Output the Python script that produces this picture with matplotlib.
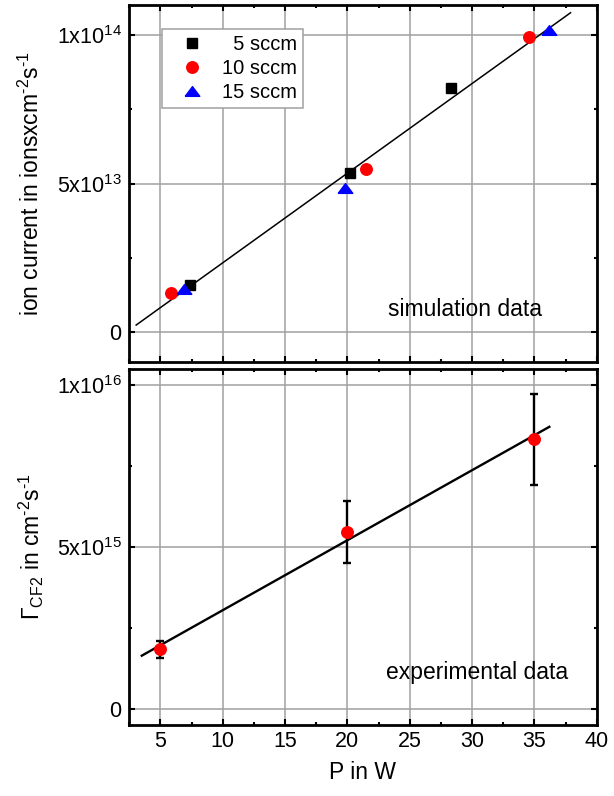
import numpy as np
import matplotlib
matplotlib.use("Agg")
import matplotlib.pyplot as plt
from matplotlib.ticker import MultipleLocator, FixedLocator

plt.rcParams['font.family'] = ['Liberation Sans', 'DejaVu Sans']
plt.rcParams['mathtext.fontset'] = 'custom'
plt.rcParams['mathtext.rm'] = 'Liberation Sans'
plt.rcParams['mathtext.it'] = 'Liberation Sans:italic'
plt.rcParams['mathtext.bf'] = 'Liberation Sans:bold'

# Simulated ion current vs. power for three gas flows
p_5sccm = [7.36, 20.18, 28.34]
ion_5sccm = [0.160e14, 0.534e14, 0.821e14]
p_10sccm = [5.88, 21.5, 34.56]
ion_10sccm = [0.132e14, 0.549e14, 0.992e14]
p_15sccm = [6.89, 19.77, 36.14]
ion_15sccm = [0.145e14, 0.486e14, 1.015e14]

# Measured CF2 flux vs. power
p_exp = [5, 20, 35]
flux_cf2 = [0.185e16, 0.546e16, 0.832e16]
flux_err = [0.026e16, 0.096e16, 0.140e16]

x_ticks = [5, 10, 15, 20, 25, 30, 35, 40]
top_yticks = [0, 5e13, 1e14]
top_ylabels = ['0', '5x10$^{13}$', '1x10$^{14}$']
bot_yticks = [0, 5e15, 1e16]
bot_ylabels = ['0', '5x10$^{15}$', '1x10$^{16}$']

HY = '\u2010'  # short hyphen for exponents in unit labels

fig = plt.figure(figsize=(6.14, 7.96), dpi=100)
ax1 = fig.add_axes([0.2106, 0.5449, 0.7612, 0.4489])
ax2 = fig.add_axes([0.2106, 0.0892, 0.7612, 0.4472])

fs_tick = 15.5
fs_lab = 16.5
fs_txt = 16.5
grid_c = '#a0a0a0'

# wide, flat triangle used for the 15 sccm series
tri = [(-1.5, -1.0), (1.5, -1.0), (0.0, 1.0), (-1.5, -1.0)]

for ax in (ax1, ax2):
    ax.set_xlim(2.5, 40)
    ax.xaxis.set_major_locator(FixedLocator(x_ticks))
    ax.xaxis.set_minor_locator(MultipleLocator(2.5))
    ax.grid(True, which='major', color=grid_c, lw=1.1, zorder=0)
    ax.set_axisbelow(True)
    ax.tick_params(which='both', direction='in', top=True, right=True,
                   labelsize=fs_tick, width=1.5)
    ax.tick_params(axis='y', pad=5.5)
    ax.tick_params(axis='x', pad=4.5)
    ax.tick_params(which='major', length=4.2)
    ax.tick_params(which='minor', length=2.4)
    for s in ax.spines.values():
        s.set_linewidth(2.0)

# --- simulation panel ---
ax1.set_ylim(-1e13, 1.1e14)
ax1.set_yticks(top_yticks)
ax1.set_yticklabels(top_ylabels)
ax1.yaxis.set_minor_locator(MultipleLocator(2.5e13))
ax1.tick_params(labelbottom=False)

ax1.plot(p_5sccm, ion_5sccm, 's', color='black', ms=7.2, ls='none', label='  5 sccm', zorder=3)
ax1.plot(p_10sccm, ion_10sccm, 'o', color='#ff0000', ms=8.3, ls='none', label='10 sccm', zorder=3)
ax1.plot(p_15sccm, ion_15sccm, marker=tri, color='#0000ff', ms=10.5, ls='none', label='15 sccm', zorder=3)

p_all = np.array(p_5sccm + p_10sccm + p_15sccm)
ion_all = np.array(ion_5sccm + ion_10sccm + ion_15sccm)
k1, d1 = np.polyfit(p_all, ion_all, 1)
xf1 = np.array([3.05, 37.9])
ax1.plot(xf1, k1 * xf1 + d1, color='black', lw=1.1, zorder=2)

ax1.set_ylabel('ion current in ionsxcm$^{' + HY + '2}$s$^{' + HY + '1}$', fontsize=fs_lab)
ax1.yaxis.set_label_coords(-0.182, 0.5)
ax1.text(23.26, 0.076e14, 'simulation data', fontsize=fs_txt, va='center', ha='left')

leg = ax1.legend(loc='upper left', bbox_to_anchor=(0.0693, 0.932), borderaxespad=0,
                 fontsize=14.5, frameon=True, fancybox=False, edgecolor='#a0a0a0',
                 framealpha=1, handletextpad=0.3, handlelength=2.4,
                 borderpad=0.3, labelspacing=0.25)
leg.get_frame().set_linewidth(1.1)

# --- experimental panel ---
ax2.set_ylim(-4.85e14, 1.0485e16)
ax2.set_yticks(bot_yticks)
ax2.set_yticklabels(bot_ylabels)
ax2.yaxis.set_minor_locator(MultipleLocator(2.5e15))
ax2.set_xticklabels([str(v) for v in x_ticks])

k2, d2 = np.polyfit(p_exp, flux_cf2, 1)
xf2 = np.array([3.5, 36.2])
ax2.plot(xf2, k2 * xf2 + d2, color='black', lw=1.7, zorder=2)
ax2.errorbar(p_exp, flux_cf2, yerr=flux_err, fmt='none', ecolor='black',
             elinewidth=1.7, capsize=3, capthick=1.7, zorder=3)
ax2.plot(p_exp, flux_cf2, 'o', color='#ff0000', ms=8.3, ls='none', zorder=4)

ax2.set_ylabel(r'$\Gamma_{\mathregular{CF2}}$ in cm$^{' + HY + '2}$s$^{' + HY + '1}$',
               fontsize=fs_lab)
ax2.yaxis.set_label_coords(-0.178, 0.5)
ax2.set_xlabel('P in W', fontsize=fs_lab, labelpad=6.5)
ax2.text(23.1, 0.112e16, 'experimental data', fontsize=fs_txt, va='center', ha='left')

fig.savefig('out.png', dpi=100)
